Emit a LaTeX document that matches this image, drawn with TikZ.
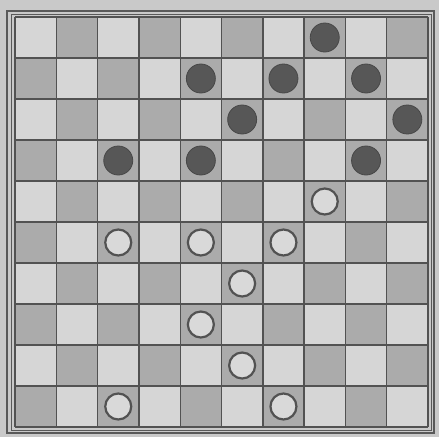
\documentclass[tikz,border=0pt]{standalone}
\begin{document}
\begin{tikzpicture}[x=1pt,y=-1pt,
  bg/.style={fill=black!21},
  lightsq/.style={fill=black!16},
  darksq/.style={fill=black!33},
  gridline/.style={draw=black!68,line width=1.4pt},
  blackman/.style={circle,fill=black!66,draw=black!72,line width=0.8pt,minimum size=29pt,inner sep=0pt},
  whiteman/.style={circle,fill=black!15,draw=black!68,line width=2.2pt,minimum size=26pt,inner sep=0pt}]
\fill[bg] (0,0) rectangle (439,437);
\useasboundingbox (0,0) rectangle (439,437);
\draw[black!65,line width=2pt] (6.5,10.5) rectangle (434,433);
\draw[black!65,line width=0.8pt] (11,14) rectangle (431,430.5);
\pgfmathsetmacro{\cw}{41.3}
\pgfmathsetmacro{\ch}{41.0}
\foreach \r in {0,...,9}{
  \foreach \c in {0,...,9}{
    \pgfmathtruncatemacro{\parity}{mod(\r+\c,2)}
    \ifnum\parity=0
      \fill[lightsq] (15+\c*\cw,17+\r*\ch) rectangle ++(\cw,\ch);
    \else
      \fill[darksq] (15+\c*\cw,17+\r*\ch) rectangle ++(\cw,\ch);
    \fi
  }
}
\foreach \i in {0,...,10}{
  \draw[gridline] (15+\i*\cw,17) -- (15+\i*\cw,427);
  \draw[gridline] (15,17+\i*\ch) -- (428,17+\i*\ch);
}
% black pieces (row, col)
\foreach \r/\c [count=\k] in {0/7,1/4,1/6,1/8,2/5,2/9,3/2,3/4,3/8}{
  \node[blackman] (b\k) at (15+\c*\cw+\cw/2,17+\r*\ch+\ch/2) {};
}
% white pieces
\foreach \r/\c [count=\k] in {4/7,5/2,5/4,5/6,6/5,7/4,8/5,9/2,9/6}{
  \node[whiteman] (w\k) at (15+\c*\cw+\cw/2,17+\r*\ch+\ch/2) {};
}
\end{tikzpicture}
\end{document}
